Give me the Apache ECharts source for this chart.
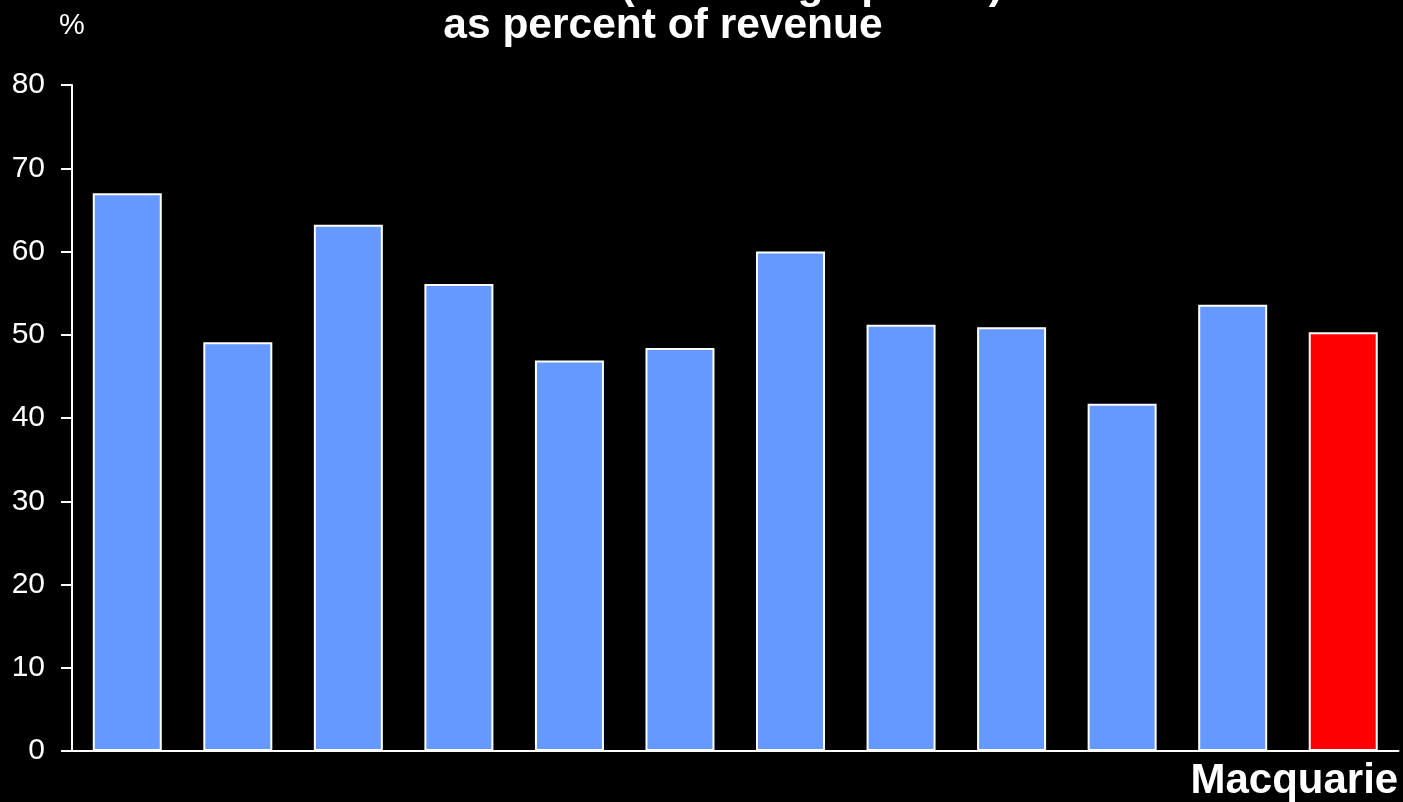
<!DOCTYPE html>
<html>
<head>
<meta charset="utf-8">
<style>
  html, body { margin: 0; padding: 0; background: #000; }
  #chart { width: 1403px; height: 802px; }
</style>
<script src="https://cdn.jsdelivr.net/npm/echarts@6/dist/echarts.min.js"></script>
</head>
<body>
<div id="chart"></div>
<script>
// ---- data ----
const categories = ['', '', '', '', '', '', '', '', '', '', '', 'Macquarie'];
const values = [67.0, 49.1, 63.2, 56.1, 46.9, 48.4, 60.0, 51.2, 50.9, 41.7, 53.6, 50.3];
const highlightName = 'Macquarie';
const yTicks = { min: 0, max: 80, interval: 10 };
const titleLines = ['Remuneration (including options)', 'as percent of revenue'];
const unitLabel = '%';

// ---- chart ----
const FONT = '"Liberation Sans", Arial, sans-serif';
const chart = echarts.init(document.getElementById('chart'), null, { renderer: 'canvas' });

const seriesData = values.map((v, i) => ({
  value: v,
  itemStyle: { color: categories[i] === highlightName ? '#FF0000' : '#6699FF' }
}));

const xData = categories.map(c => c === highlightName
  ? { value: c, textStyle: { align: 'right', padding: [0, -55, 0, 0] } }
  : c);

chart.setOption({
  backgroundColor: '#000000',
  animation: false,
  title: {
    text: titleLines.join('\n'),
    left: 658,
    textAlign: 'center',
    top: -39,
    textStyle: {
      color: '#ffffff',
      fontFamily: FONT,
      fontWeight: 'bold',
      fontSize: 42.5,
      lineHeight: 40,
      align: 'center'
    }
  },
  grid: { left: 72, right: 4.5, top: 85, bottom: 50, containLabel: false },
  xAxis: {
    type: 'category',
    data: xData,
    boundaryGap: true,
    axisLine: { lineStyle: { color: '#ffffff', width: 2 } },
    axisTick: { show: false },
    axisLabel: {
      interval: 0,
      color: '#ffffff',
      fontFamily: FONT,
      fontWeight: 'bold',
      fontSize: 42,
      margin: 9
    },
    splitLine: { show: false }
  },
  yAxis: {
    type: 'value',
    min: yTicks.min,
    max: yTicks.max,
    interval: yTicks.interval,
    name: unitLabel,
    nameLocation: 'end',
    nameGap: 45,
    nameTextStyle: { color: '#ffffff', fontFamily: FONT, fontSize: 29, align: 'center' },
    axisLine: { show: true, lineStyle: { color: '#ffffff', width: 2 } },
    axisTick: { show: true, inside: false, length: 11, lineStyle: { color: '#ffffff', width: 2 } },
    axisLabel: { color: '#ffffff', fontFamily: FONT, fontSize: 30, margin: 27 },
    splitLine: { show: false }
  },
  series: [{
    type: 'bar',
    data: seriesData,
    barWidth: 69,
    itemStyle: { borderColor: '#ffffff', borderWidth: 2 }
  }]
});
</script>
</body>
</html>
